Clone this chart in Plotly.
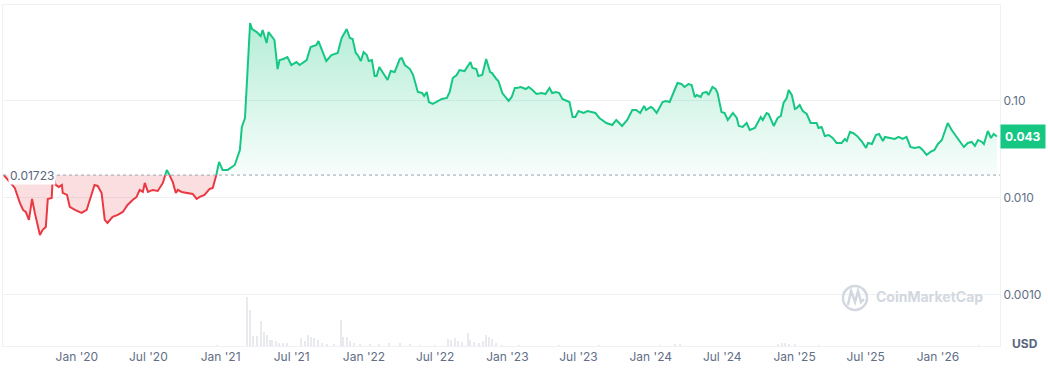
import numpy as np
import pandas as pd
import plotly.graph_objects as go

BASE = 0.01723
LAST = 0.043

price_dates = [
"2019-06-29","2019-07-27","2019-08-09","2019-08-17","2019-08-24","2019-09-01","2019-09-09","2019-09-16","2019-09-29","2019-10-06","2019-10-14","2019-10-19","2019-10-29","2019-11-01","2019-11-08","2019-11-16","2019-11-24","2019-11-26","2019-12-07","2019-12-14","2019-12-27",
"2020-01-03","2020-01-13","2020-01-26","2020-02-03","2020-02-15","2020-02-23","2020-03-04","2020-03-12","2020-03-19","2020-04-01","2020-04-14","2020-04-27","2020-05-09","2020-05-22","2020-06-01","2020-06-09","2020-06-17","2020-06-22","2020-06-30","2020-07-12","2020-07-25","2020-08-07","2020-08-17","2020-08-25","2020-09-01","2020-09-09","2020-09-14","2020-09-24","2020-10-09","2020-10-22","2020-11-01","2020-11-09","2020-11-21","2020-12-04","2020-12-12","2020-12-20","2020-12-28",
"2021-01-06","2021-01-19","2021-02-06","2021-02-19","2021-02-24","2021-03-04","2021-03-17","2021-03-22","2021-04-03","2021-04-13","2021-04-18","2021-04-28","2021-05-03","2021-05-18","2021-05-26","2021-05-31","2021-06-10","2021-06-20","2021-06-30","2021-07-13","2021-07-21","2021-08-08","2021-08-18","2021-09-02","2021-09-07","2021-09-17","2021-09-27","2021-10-10","2021-10-26","2021-11-05","2021-11-18","2021-11-26","2021-12-03","2021-12-11","2021-12-16","2021-12-24","2021-12-31",
"2022-01-08","2022-01-13","2022-01-21","2022-01-28","2022-02-02","2022-02-09","2022-02-17","2022-03-02","2022-03-10","2022-03-20","2022-04-02","2022-04-07","2022-04-15","2022-04-28","2022-05-06","2022-05-18","2022-05-29","2022-06-03","2022-06-10","2022-06-15","2022-06-25","2022-07-05","2022-07-18","2022-07-31","2022-08-07","2022-08-15","2022-08-25","2022-09-01","2022-09-14","2022-09-29","2022-10-04","2022-10-14","2022-10-19","2022-10-29","2022-11-08","2022-11-18","2022-11-23","2022-12-04","2022-12-09","2022-12-19",
"2023-01-04","2023-01-12","2023-01-20","2023-01-25","2023-02-04","2023-02-17","2023-02-24","2023-03-06","2023-03-16","2023-03-29","2023-04-08","2023-04-18","2023-04-25","2023-05-05","2023-05-13","2023-05-21","2023-06-08","2023-06-16","2023-06-23","2023-07-01","2023-07-14","2023-07-24","2023-08-13","2023-08-23","2023-09-10","2023-09-25","2023-10-05","2023-10-20","2023-11-02","2023-11-15","2023-11-25","2023-12-05","2023-12-15","2023-12-20",
"2024-01-01","2024-01-06","2024-01-16","2024-01-31","2024-02-08","2024-02-18","2024-02-28","2024-03-09","2024-03-19","2024-03-27","2024-04-06","2024-04-14","2024-04-22","2024-04-27","2024-05-07","2024-05-12","2024-05-22","2024-05-27","2024-06-06","2024-06-14","2024-06-19","2024-06-29","2024-07-07","2024-07-15","2024-07-28","2024-08-07","2024-08-12","2024-08-22","2024-09-01","2024-09-09","2024-09-22","2024-10-07","2024-10-12","2024-10-22","2024-10-27","2024-11-09","2024-11-19","2024-11-27","2024-12-04","2024-12-12","2024-12-17","2024-12-25",
"2025-01-02","2025-01-07","2025-01-14","2025-01-22","2025-02-01","2025-02-11","2025-02-21","2025-02-26","2025-03-03","2025-03-11","2025-03-19","2025-03-29","2025-04-08","2025-04-18","2025-05-01","2025-05-09","2025-05-14","2025-05-22","2025-05-30","2025-06-09","2025-06-22","2025-07-02","2025-07-07","2025-07-17","2025-07-27","2025-08-04","2025-08-14","2025-08-19","2025-09-01","2025-09-13","2025-09-23","2025-10-03","2025-10-13","2025-10-23","2025-11-02","2025-11-15","2025-11-23","2025-12-03","2025-12-13","2025-12-23",
"2026-01-01","2026-01-11","2026-01-18","2026-01-26","2026-02-05","2026-02-18","2026-02-26","2026-03-08","2026-03-18","2026-03-28","2026-04-05","2026-04-13","2026-04-23","2026-04-28","2026-05-08","2026-05-16","2026-05-23","2026-05-31",
]

prices = [
0.01723,0.0127,0.00889,0.00753,0.00718,0.00594,0.00978,0.00702,0.00416,0.00469,0.00503,0.00978,0.01001,0.0172,0.01363,0.0130,0.01363,0.01127,0.01075,0.00809,0.00753,
0.00736,0.00702,0.00753,0.00955,0.01363,0.01331,0.01127,0.00594,0.00553,0.00638,0.00669,0.00718,0.00848,0.00955,0.01025,0.01211,0.01154,0.01429,0.01154,0.01211,0.01182,0.01429,0.01946,0.01688,0.01464,0.01127,0.01211,0.01154,0.01127,0.01101,0.00978,0.01025,0.01075,0.0124,0.0127,0.01648,0.02352,
0.01946,0.01946,0.02191,0.03127,0.05396,0.06681,0.6364,0.5519,0.514,0.4675,0.539,0.3959,0.514,0.4252,0.2136,0.2645,0.2709,0.284,0.2349,0.2522,0.2349,0.2645,0.3601,0.3776,0.4152,0.3198,0.2583,0.2978,0.3123,0.4459,0.5519,0.4459,0.4354,0.3123,0.2978,0.2583,0.3198,
0.2978,0.2583,0.2645,0.1809,0.1809,0.224,0.1989,0.1645,0.2037,0.1989,0.2709,0.2774,0.2349,0.2136,0.1852,0.1238,0.1209,0.1126,0.1238,0.09765,0.09313,0.09765,0.1049,0.1074,0.1238,0.1725,0.1852,0.2086,0.2037,0.2522,0.2188,0.2136,0.1809,0.1852,0.2709,0.1989,0.1942,0.1685,0.1607,0.1209,
0.1,0.11,0.1361,0.1361,0.1394,0.1329,0.1394,0.1298,0.1181,0.1209,0.1181,0.1361,0.1209,0.1238,0.1209,0.1049,0.09765,0.06841,0.06841,0.07888,0.07522,0.07888,0.07522,0.06681,0.05933,0.05658,0.06371,0.05526,0.06371,0.08077,0.08077,0.07522,0.08882,0.08077,
0.08673,0.0847,0.07522,0.09765,0.1,0.09765,0.1209,0.1532,0.1497,0.1394,0.1497,0.1461,0.11,0.1153,0.11,0.1209,0.1238,0.1153,0.1394,0.1329,0.1209,0.07703,0.07522,0.06371,0.07522,0.06681,0.05526,0.05396,0.05933,0.05026,0.0527,0.06841,0.06371,0.07522,0.07346,0.05526,0.06681,0.07006,0.09536,0.1074,0.1298,0.1153,
0.08271,0.0847,0.09094,0.07888,0.07346,0.05933,0.05933,0.05933,0.0527,0.05396,0.04359,0.04463,0.04157,0.03691,0.03691,0.0406,0.03871,0.04793,0.0468,0.04359,0.0378,0.03279,0.03691,0.03605,0.04463,0.04571,0.03871,0.04257,0.04157,0.0406,0.04257,0.0406,0.04257,0.03357,0.03279,0.03357,0.03127,0.02777,0.02982,0.03127,
0.03605,0.03964,0.04793,0.05933,0.05026,0.04257,0.03871,0.03357,0.03691,0.0378,0.03438,0.03964,0.0378,0.03605,0.04908,0.04157,0.04571,0.043,
]

vol_dates = ["2020-12-22","2021-03-09","2021-03-17","2021-03-24","2021-04-03","2021-04-13","2021-04-21","2021-04-28","2021-05-06","2021-05-13","2021-05-21","2021-05-31","2021-06-10","2021-06-20","2021-07-26","2021-08-03","2021-08-11","2021-08-18","2021-08-26","2021-09-05","2021-09-15","2021-09-30","2021-10-18","2021-11-03","2021-11-10","2021-11-18","2021-11-26","2021-12-06","2021-12-21","2022-01-16","2022-02-09","2022-03-07","2022-04-02","2022-04-28","2022-05-23","2022-07-01","2022-08-03","2022-08-10","2022-08-20","2022-08-28","2022-09-07","2022-09-22","2022-09-29","2022-10-09","2022-10-22","2022-11-01","2022-11-08","2022-11-16","2022-11-23","2022-12-04","2022-12-19","2023-02-01","2023-05-13","2023-08-23","2024-01-24","2024-03-03","2024-03-15","2024-11-19","2024-11-29","2024-12-09","2024-12-19","2025-01-02","2025-03-05","2026-04-17"]
vol_values = [1,48,35,10,10,25,14,11,6,6,5,3,3,3,8,5,11,9,8,6,3,2,2,26,9,9,5,3,2,2,2,3,3,2,1,1,7,6,8,5,4,13,6,4,3,5,11,9,7,3,1,1,1,1,1,2,2,2,3,3,2,2,1,1]

tick_vals = ["2020-01-01","2020-07-01","2021-01-01","2021-07-01","2022-01-01","2022-07-01","2023-01-01","2023-07-01","2024-01-01","2024-07-01","2025-01-01","2025-07-01","2026-01-01"]
tick_text = ["Jan '20","Jul '20","Jan '21","Jul '21","Jan '22","Jul '22","Jan '23","Jul '23","Jan '24","Jul '24","Jan '25","Jul '25","Jan '26"]
y_tick_vals = [0.1, 0.01, 0.001]
y_tick_text = ["0.10", "0.010", "0.0010"]

GREEN = "#16c784"
RED = "#ea3943"
GRID = "#eff1f4"
LABEL = "#616e85"
WM = "#d3d8e0"

# insert baseline crossings so each colour ends exactly on the baseline
d = pd.to_datetime(price_dates)
v = np.array(prices, dtype=float)
xs = [d[0]]
ys = [v[0]]
for i in range(1, len(v)):
    v0, v1 = v[i - 1], v[i]
    if (v0 - BASE) * (v1 - BASE) < 0:
        t = (np.log(BASE) - np.log(v0)) / (np.log(v1) - np.log(v0))
        xs.append(d[i - 1] + (d[i] - d[i - 1]) * t)
        ys.append(BASE)
    xs.append(d[i])
    ys.append(v1)
ys = np.array(ys)
n = len(ys)
base_line = [BASE] * n

fig = go.Figure()
fig.add_trace(go.Scatter(x=xs, y=base_line, mode="lines", line=dict(width=0), hoverinfo="skip", showlegend=False))
fig.add_trace(go.Scatter(x=xs, y=np.maximum(ys, BASE), mode="lines", line=dict(width=0), fill="tonexty",
                         fillgradient=dict(type="vertical", colorscale=[[0, "rgba(22,199,132,0.03)"], [1, "rgba(22,199,132,0.32)"]]),
                         hoverinfo="skip", showlegend=False))
fig.add_trace(go.Scatter(x=xs, y=base_line, mode="lines", line=dict(width=0), hoverinfo="skip", showlegend=False))
fig.add_trace(go.Scatter(x=xs, y=np.minimum(ys, BASE), mode="lines", line=dict(width=0), fill="tonexty",
                         fillcolor="rgba(234,57,67,0.17)", hoverinfo="skip", showlegend=False))
fig.add_trace(go.Scatter(x=xs, y=[y if y >= BASE else None for y in ys], mode="lines",
                         line=dict(color=GREEN, width=2), showlegend=False))
fig.add_trace(go.Scatter(x=xs, y=[y if y <= BASE else None for y in ys], mode="lines",
                         line=dict(color=RED, width=2), showlegend=False))
fig.add_trace(go.Bar(x=pd.to_datetime(vol_dates), y=vol_values, yaxis="y2", marker=dict(color="#e8eaee", line=dict(width=0)),
                     width=3 * 86400000, showlegend=False))

fig.update_layout(
    width=1048, height=384,
    margin=dict(l=3, r=48, t=5, b=38),
    paper_bgcolor="white", plot_bgcolor="white",
    font=dict(family="Inter, Roboto, sans-serif", size=12, color=LABEL),
    bargap=0,
    xaxis=dict(type="date", range=["2019-06-27", "2026-06-08"], tickvals=tick_vals, ticktext=tick_text,
               showgrid=False, showline=True, mirror=True, linecolor=GRID, linewidth=1, ticks="",
               tickfont=dict(size=12, color=LABEL), anchor="y", zeroline=False),
    yaxis=dict(type="log", range=[-3.526, -0.0103], side="right", tickvals=y_tick_vals, ticktext=y_tick_text,
               showgrid=True, gridcolor=GRID, showline=True, mirror=True, linecolor=GRID, ticks="",
               tickfont=dict(size=12, color=LABEL), domain=[0, 1], zeroline=False),
    yaxis2=dict(domain=[0, 0.147], range=[0, 49], visible=False, anchor="x", showgrid=False),
    shapes=[
        dict(type="line", xref="paper", yref="y", x0=0, x1=1, y0=BASE, y1=BASE,
             line=dict(color="#9aa3b2", width=1, dash="dot"), layer="above"),
        dict(type="circle", xref="paper", yref="paper", x0=0.8425, x1=0.8666, y0=0.1056, y1=0.1760,
             line=dict(color=WM, width=2.5)),
        dict(type="path", xref="paper", yref="paper",
             path="M 0.8475,0.1202 L 0.8506,0.1613 L 0.8546,0.1290 L 0.8576,0.1613 L 0.8606,0.1290 L 0.8636,0.1378",
             line=dict(color=WM, width=2.5)),
    ],
    annotations=[
        dict(text="0.01723", x=0, xref="paper", xanchor="left", xshift=5, y=np.log10(BASE), yref="y",
             showarrow=False, bgcolor="white", borderpad=1, font=dict(size=12, color="#58667e")),
        dict(text="<b>0.043</b>", x=1, xref="paper", xanchor="left", y=np.log10(LAST), yref="y",
             showarrow=False, bgcolor=GREEN, borderpad=4, font=dict(size=12, color="white")),
        dict(text="<b>USD</b>", x=1, xref="paper", xanchor="left", xshift=10, y=0, yref="paper", yanchor="middle",
             yshift=3, showarrow=False, font=dict(size=12, color="#58667e")),
        dict(text="<b>CoinMarketCap</b>", x=0.9288, xref="paper", xanchor="center", y=0.144, yref="paper",
             yanchor="middle", showarrow=False, font=dict(size=14, color=WM)),
    ],
)

fig.write_html("out.html")
